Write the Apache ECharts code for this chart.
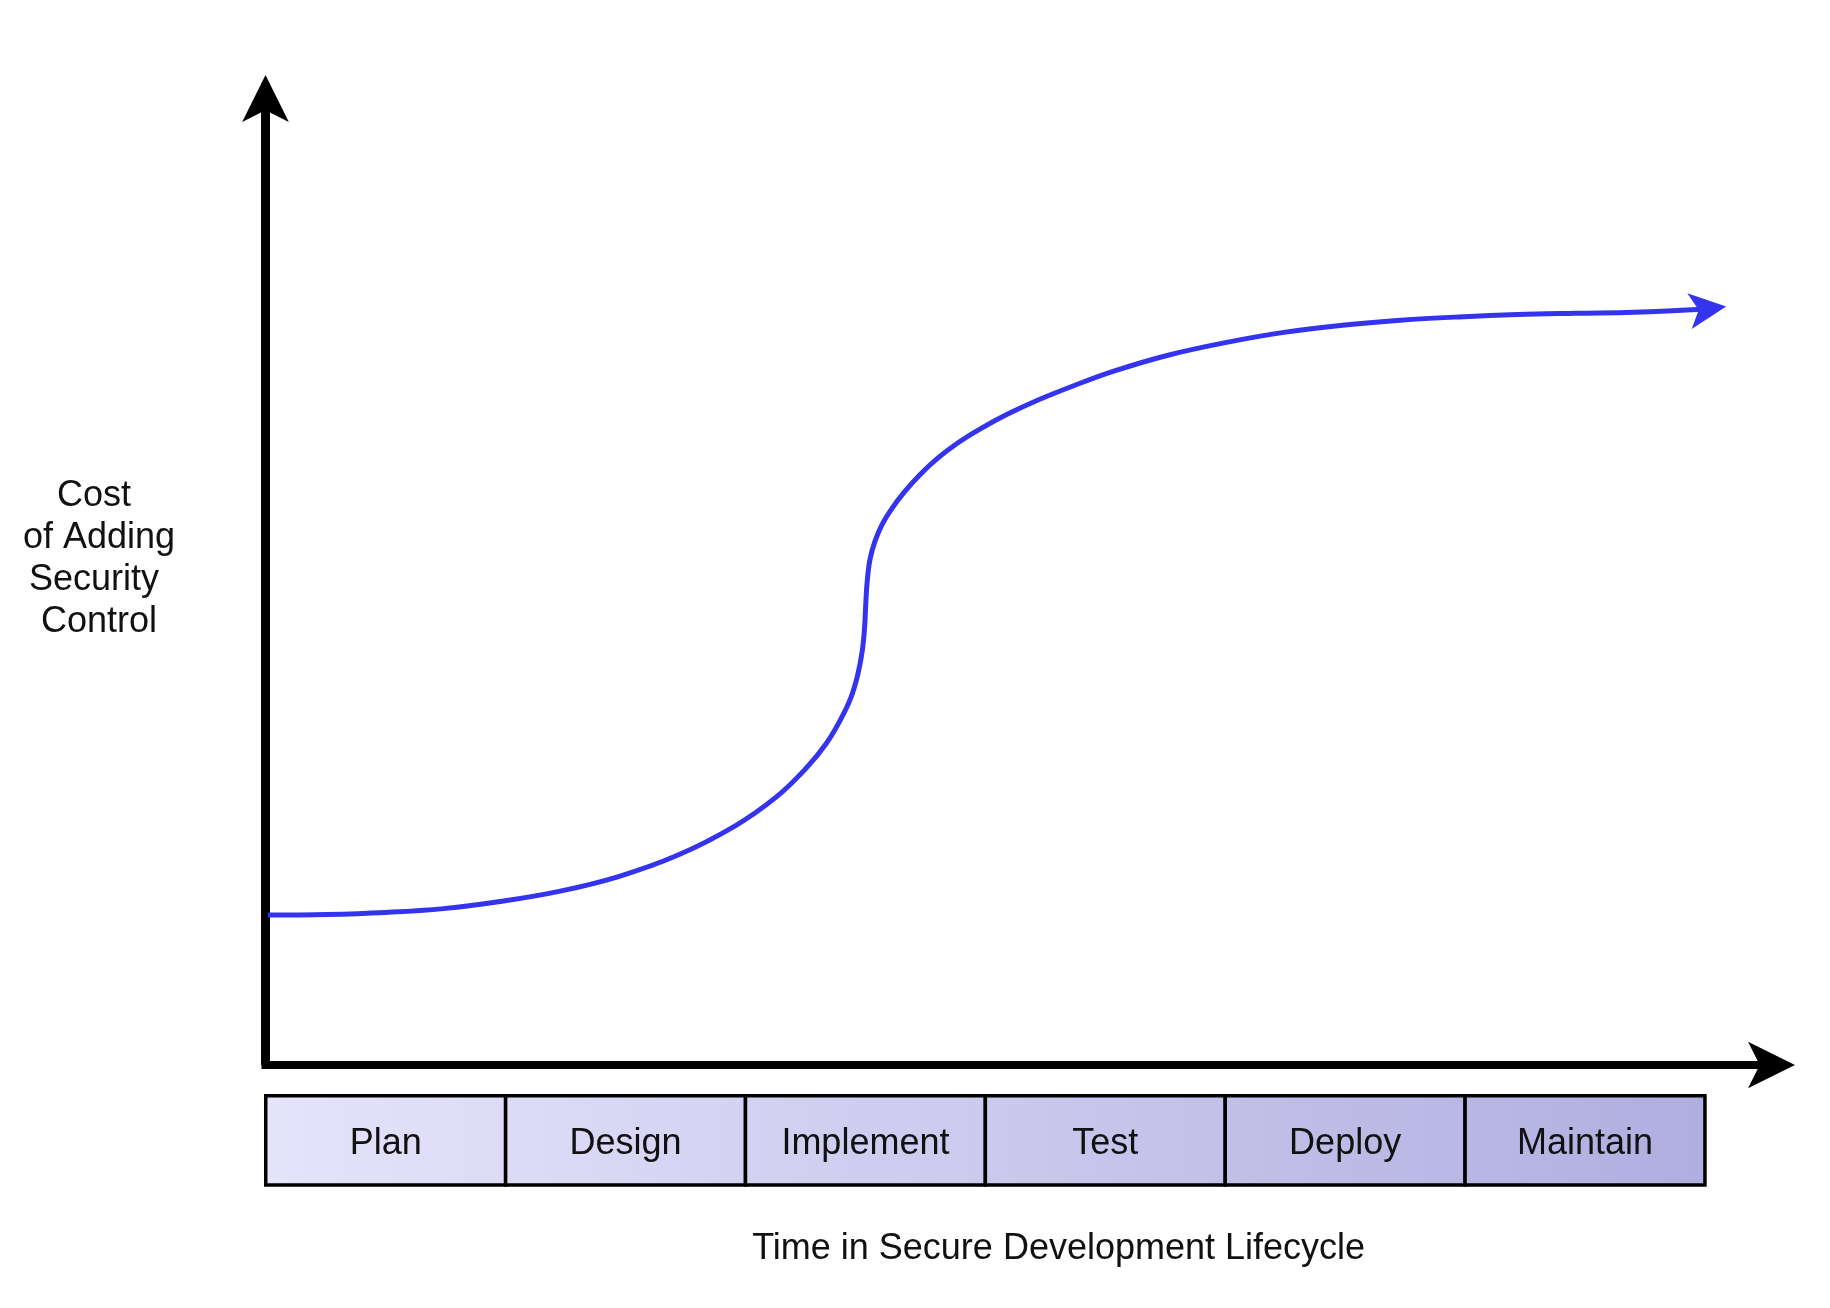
<!DOCTYPE html>
<html><head><meta charset="utf-8">
<script src="https://cdn.jsdelivr.net/npm/echarts@6/dist/echarts.min.js"></script>
<style>html,body{margin:0;padding:0;background:#fff}#c{width:1830px;height:1308px}</style>
</head><body><div id="c"></div>
<script>
const phases = ['Plan', 'Design', 'Implement', 'Test', 'Deploy', 'Maintain'];
const phaseHeights = [1, 1, 1, 1, 1, 1];
const costX = [0.01, 0.2552, 0.4981, 0.7410, 0.9840, 1.2269, 1.4699, 1.7128, 1.9558, 2.1258, 2.2473, 2.3348, 2.3930, 2.4368, 2.4659, 2.4844, 2.4941, 2.4990, 2.5048, 2.5170, 2.5388, 2.5680, 2.6069, 2.6603, 2.7235, 2.7963, 2.8789, 2.9761, 3.0879, 3.2191, 3.3648, 3.5349, 3.7535, 3.9965, 4.2394, 4.4824, 4.7253, 4.9683, 5.2112, 5.4542, 5.6971, 6.005];
const costY = [15.51, 15.57, 15.78, 16.18, 16.94, 17.99, 19.50, 21.67, 24.75, 27.71, 30.61, 33.27, 35.68, 37.98, 40.39, 42.81, 45.22, 47.64, 49.93, 52.35, 54.28, 55.97, 57.54, 59.29, 61.04, 62.73, 64.30, 65.81, 67.32, 68.83, 70.28, 71.81, 73.41, 74.74, 75.80, 76.53, 77.05, 77.40, 77.65, 77.78, 77.88, 78.23];
const yTitle = 'Cost \nof Adding\nSecurity \nControl';
const xTitle = 'Time in Secure Development Lifecycle';

const FONT = '"Liberation Sans", Arial, Helvetica, sans-serif';
const c0 = [230, 228, 251], c1 = [176, 174, 223];
function mix(t) { return 'rgb(' + c0.map((v, i) => Math.round(v + (c1[i] - v) * t)).join(',') + ')'; }
const n = costX.length;
const rowW = 1439.2;
const bandW = rowW / phases.length;
const textStyle = { fontFamily: FONT, fontSize: 36, fontWeight: 'normal', lineHeight: 42, color: '#111' };
const axisCommon = { axisTick: { show: false }, axisLabel: { show: false }, splitLine: { show: false } };

const chart = echarts.init(document.getElementById('c'), null, { renderer: 'canvas' });
chart.setOption({
  animation: false,
  backgroundColor: '#fff',
  title: [
    { text: yTitle, left: 99, top: 475, textAlign: 'center', padding: 0, textStyle: textStyle },
    { text: xTitle, left: 1058.6, top: 1228.5, textAlign: 'center', padding: 0, textStyle: textStyle }
  ],
  grid: [
    { left: 265.5, right: 47, top: 83, bottom: 243 },
    { left: 265.75, width: rowW, top: 1094, height: 92.7 }
  ],
  xAxis: [
    Object.assign({ type: 'value', gridIndex: 0, min: 0, max: 6.318,
      axisLine: { show: true, onZero: false, symbol: ['none', 'arrow'], symbolSize: [35, 47], symbolOffset: [0, 12],
        lineStyle: { color: '#000', width: 8, cap: 'square' } } }, axisCommon),
    { type: 'category', gridIndex: 1, data: phases, show: false }
  ],
  yAxis: [
    Object.assign({ type: 'value', gridIndex: 0, min: 0, max: 101.6,
      axisLine: { show: true, onZero: false, symbol: ['none', 'arrow'], symbolSize: [35, 47], symbolOffset: [0, 8],
        lineStyle: { color: '#000', width: 9, cap: 'butt' } } }, axisCommon),
    { type: 'value', gridIndex: 1, min: 0, max: 1, show: false }
  ],
  series: [
    { type: 'line', xAxisIndex: 0, yAxisIndex: 0, data: costX.map((x, i) => [x, costY[i]]),
      smooth: 0.4, symbol: 'none', lineStyle: { color: '#3434EE', width: 5 }, z: 5, silent: true },
    { type: 'scatter', xAxisIndex: 0, yAxisIndex: 0, data: [[costX[n - 1], costY[n - 1]]],
      symbol: 'arrow', symbolSize: [27, 37], symbolRotate: -83, symbolOffset: [18.4, -2.3],
      itemStyle: { color: '#3434EE', opacity: 1 }, z: 6, silent: true },
    { type: 'bar', xAxisIndex: 1, yAxisIndex: 1, clip: false, barWidth: bandW + 3.5, silent: true,
      data: phases.map((p, i) => ({ value: phaseHeights[i], itemStyle: {
        color: new echarts.graphic.LinearGradient(0, 0, 1, 0, [
          { offset: 0, color: mix(i / phases.length) },
          { offset: 1, color: mix((i + 1) / phases.length) }]) } })),
      itemStyle: { borderColor: '#000', borderWidth: 3.5 },
      label: { show: true, position: 'inside', formatter: '{b}', offset: [0, 4], fontFamily: FONT, fontSize: 36, color: '#111' } }
  ]
});
</script>
</body></html>
